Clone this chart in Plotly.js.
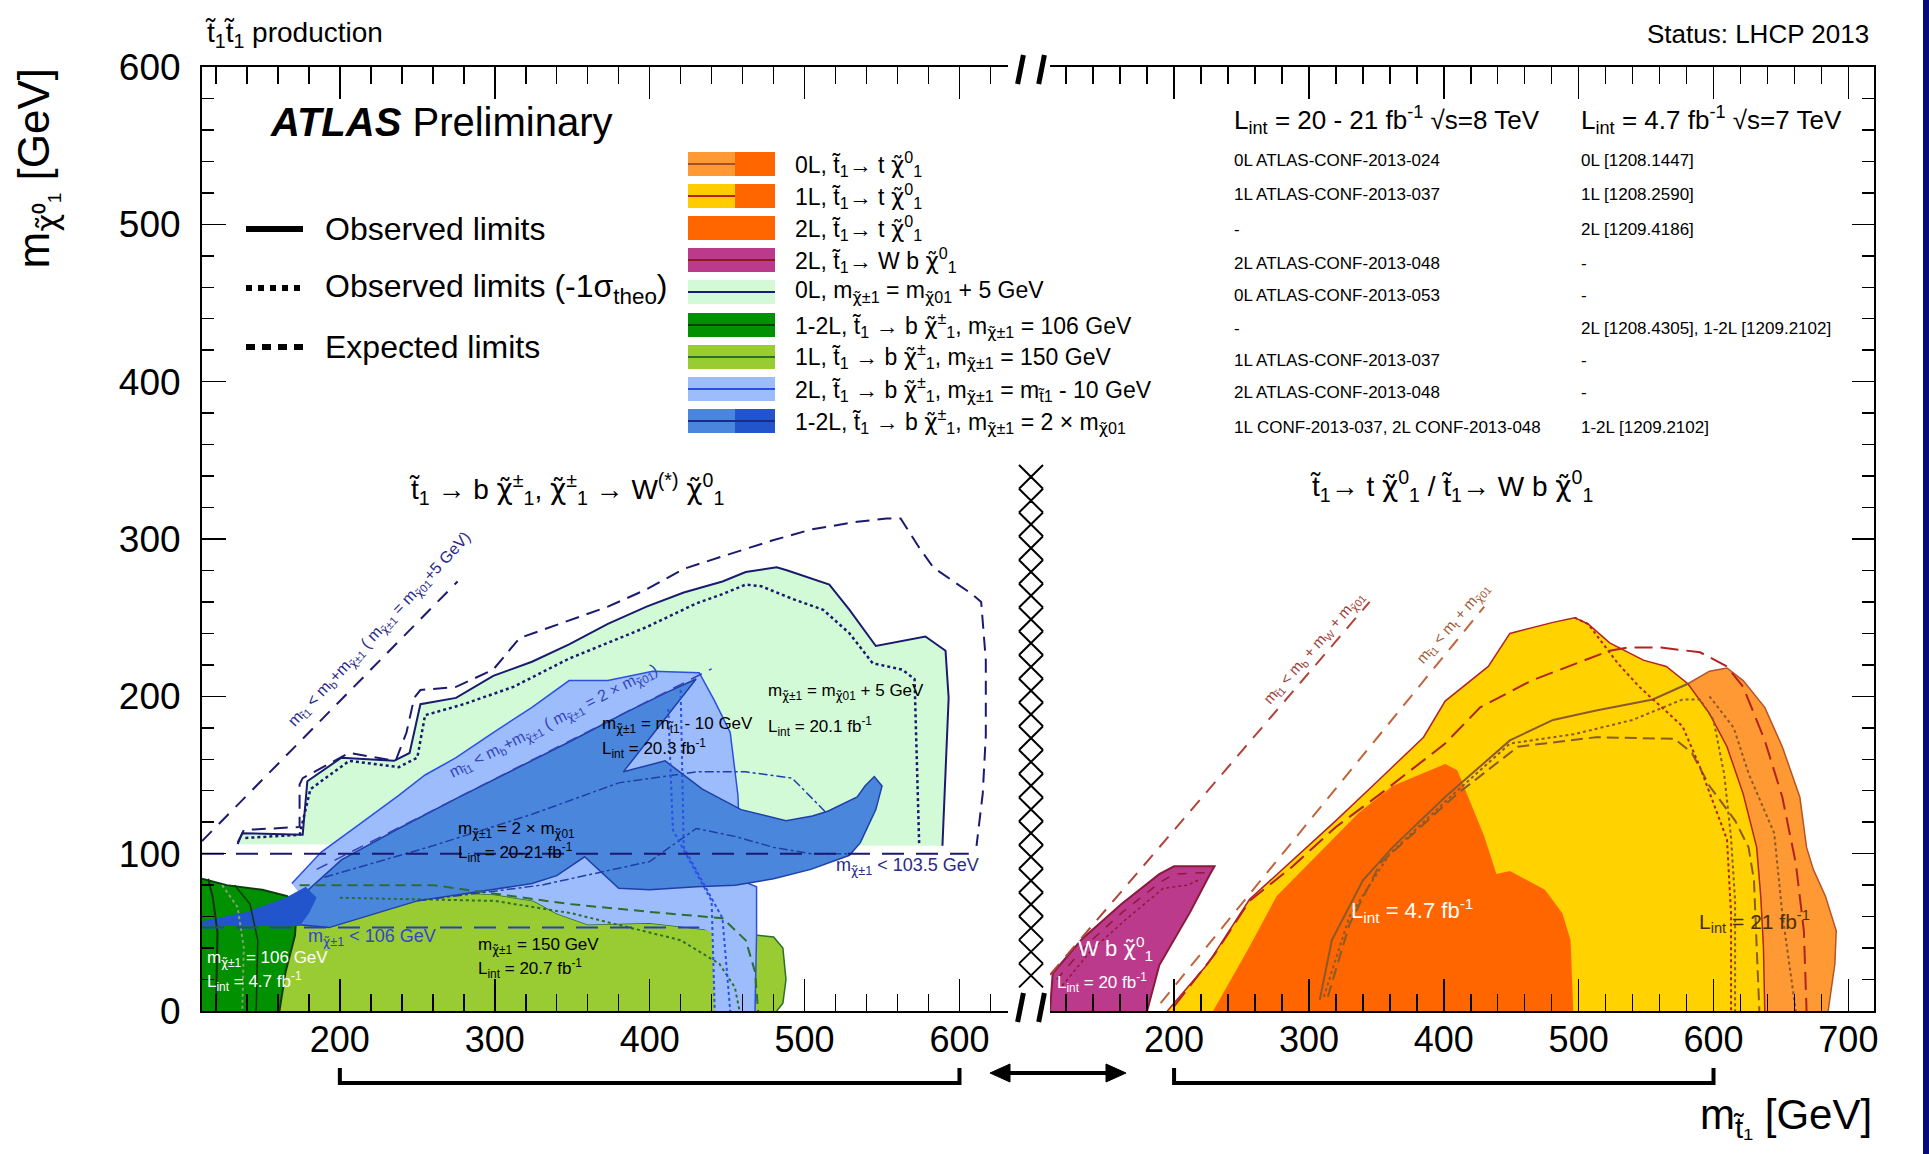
<!DOCTYPE html>
<html><head><meta charset="utf-8">
<script src="https://cdn.plot.ly/plotly-3.0.1.min.js"></script>
<style>html,body{margin:0;padding:0;background:#fff;} #chart{width:1929px;height:1154px;}</style>
</head><body><div id="chart"></div>
<script>
// ================= DATA (GeV) =================
// ---- left panel: t1 -> b chi+-  ----
const mintObsX = [134,137,176,179,201,235,245,252,275,299,324,348,373,398,422,447,462,482,489,516,529,546,578,591,593,591,589];
const mintObsY = [106,113,112,146,161,159,164,195,199,213,222,233,246,257,266,273,279,282,280,271,255,232,238,229,199,150,105];
const mintM1X = [139,174,181,206,238,250,255,280,312,348,398,430,447,462,472,492,512,529,544,563,571,572,573,574];
const mintM1Y = [110,112,141,159,155,161,188,195,206,224,244,259,265,271,270,262,255,240,221,217,211,175,138,105];
const mintExpX = [134,138,174,174,176,206,236,243,248,252,275,299,316,336,373,398,422,447,479,504,534,553,562,573,583,608,614,617,617,615,611];
const mintExpY = [107,115,117,144,148,164,159,177,199,204,206,217,237,244,257,268,281,289,299,306,311,313,313,296,282,265,260,223,175,138,105];
const kinLX = [111,276], kinLY = [108,273];
const kin2X = [185,440], kin2Y = [90,217.5];
const lep1X = [111,606], lep1Y = [100,100];
const lep2X = [111,432], lep2Y = [53,53];
const lgX = [161,165,171,172,173,200,225,262,300,325,340,360,400,435,470,480,486,488,486,482];
const lgY = [0,25,48,60,75,79,78,76,74,70,62,55,56,52,48,47,40,20,5,0];
const dgX = [111,111,127,150,166,172,171,165,161];
const dgY = [0,84,80,77,73,62,48,25,0];
const lbX = [169,188,213,238,255,275,299,324,348,373,402,432,442,452,457,459,469,469,468,442,440,435,400,360,340,325,300,262,225,200,173];
const lbY = [81,101,119,137,150,161,177,193,210,210,216,215,197,177,137,83,79,48,0,0,50,52,56,55,62,70,74,76,78,79,76];
const mbX = [172,174,201,238,275,312,348,385,410,430,383,410,434,459,488,505,515,534,539,545,550,546,536,529,504,480,455,430,400,380,358,340,324,250,193];
const mbY = [55,72,96,116,135,153,171,190,202,211,152,159,141,128,121,124,127,136,143,149,143,128,107,99,90,84,80,79,77,78,98,86,81,70,53];
const dbX = [111,111,140,165,178,185,180,174];
const dbY = [54,57,63,72,79,72,62,54];
const dd1X = [190,260,324,380,430,462,492,504,514], dd1Y = [85,105,125,145,152,152,148,136,126];
const dd2X = [250,330,400,430,455,480,504,528], dd2Y = [70,80,95,116,111,104,100,100];
const bd1X = [412,415,440,442], bd1Y = [192,115,70,0];
const bd2X = [420,422,447,452], bd2Y = [204,104,59,0];
const gExpX = [174,260,348,400,447,462,468,470], gExpY = [80,80,68,63,59,45,25,0];
const gM1X = [200,300,350,420,445,455,458], gM1Y = [72,70,62,45,30,15,0];
const dgL1X = [115,118,121,120], dgL1Y = [84,72,50,0];
const dgL2X = [124,134,138,137], dgL2Y = [80,66,40,0];
const dgL3X = [132,142,147,146], dgL3Y = [80,68,45,0];
// ---- right panel: t1 -> t chi0 / W b chi0 ----
const orX = [560,570,581,597,610,622,638,651,664,669,674,683,691,690,685];
const orY = [0,150,208,216,218,210,193,168,136,104,90,73,51,30,0];
const yeX = [195,225,256,288,320,352,385,401,417,433,449,481,497,507,523,548,565,581,597,610,622,632,635,637,638];
const yeY = [0,30,71,96,121,147,174,197,208,219,240,247,250,246,234,223,219,208,189,168,138,104,73,41,0];
const roX = [229,256,276,305,337,362,401,410,417,430,439,449,475,488,494,496];
const roY = [0,41,73,98,126,143,157,153,138,111,87,89,77,62,45,0];
const mgX = [108,110,132,161,189,200,230,226,212,189,180];
const mgY = [0,24,46,68,87,92,92,86,63,29,0];
const mgIn1X = [113,135,162,190,200,224], mgIn1Y = [20,42,63,82,87,88];
const mgIn2X = [117,138,164,192,210,220], mgIn2Y = [16,38,58,78,80,84];
const kinR1X = [108,345], kinR1Y = [23,260];
const kinR2X = [190,430], kinR2Y = [5,257];
const rAX = [200,230,256,288,320,353,401,427,465,523,536,561,590,610,622,638,651,661,667,669];
const rAY = [3,36,70,92,117,138,170,193,210,229,231,231,228,219,206,172,136,94,51,0];
const rBX = [308,317,340,362,401,449,481,513,555,581], rBY = [7,45,83,104,136,172,185,191,198,208];
const rCX = [311,330,360,401,449,497,540,577,590,600,608,613,616,616], rCY = [9,60,100,133,170,176,185,198,198,185,150,110,70,0];
const rDX = [314,330,353,410,455,513,571,584,597,616,626,630,632,634], rDY = [9,55,94,138,168,174,173,164,143,121,104,83,41,0];
const rEX = [497,507,529,545,577,590,610,613,613], rEY = [250,246,221,206,181,155,109,62,0];
const rFX = [597,615,626,645,651,661], rFY = [200,180,151,113,62,0];
// ---- legend / table text ----
const CH = '<span style="font-family:\'DejaVu Sans\'">\u03c7\u0303</span>';
const T1 = 't\u0303<sub>1</sub>';
const N1 = CH+'<sup>0</sup><sub>1</sub>';
const C1 = CH+'<sup>\u00b1</sup><sub>1</sub>';
const mC = 'm<sub>'+CH+'\u00b11</sub>';
const mN = 'm<sub>'+CH+'01</sub>';
const mT = 'm<sub>t\u03031</sub>';
const legendLabels = [
  '0L, '+T1+'\u2192 t '+N1,
  '1L, '+T1+'\u2192 t '+N1,
  '2L, '+T1+'\u2192 t '+N1,
  '2L, '+T1+'\u2192 W b '+N1,
  '0L, '+mC+' = '+mN+' + 5 GeV',
  '1-2L, '+T1+' \u2192 b '+C1+', '+mC+' = 106 GeV',
  '1L, '+T1+' \u2192 b '+C1+', '+mC+' = 150 GeV',
  '2L, '+T1+' \u2192 b '+C1+', '+mC+' = '+mT+' - 10 GeV',
  '1-2L, '+T1+' \u2192 b '+C1+', '+mC+' = 2 \u00d7 '+mN
];
const legendLeft  = ['#ff9933','#ffcc00','#ff6600','#bb3a8c','#d2fad6','#009000','#99cc33','#9dbcfb','#4a86dc'];
const legendRight = ['#ff6600','#ff6600','#ff6600','#bb3a8c','#d2fad6','#009000','#99cc33','#9dbcfb','#2255cc'];
const legendLine  = ['#a0522d','#b22222',null,'#8b1a1a','#1a1a7a','#0d3d0d','#2d6e2d','#2a4fe6','#1a2a8a'];
const refs8 = ['0L ATLAS-CONF-2013-024','1L ATLAS-CONF-2013-037','-','2L ATLAS-CONF-2013-048','0L ATLAS-CONF-2013-053','-','1L ATLAS-CONF-2013-037','2L ATLAS-CONF-2013-048','1L CONF-2013-037, 2L CONF-2013-048'];
const refs7 = ['0L [1208.1447]','1L [1208.2590]','2L [1209.4186]','-','-','2L [1208.4305], 1-2L [1209.2102]','-','-','1-2L [1209.2102]'];

// ================= LAYOUT HELPERS =================
const FONT = '"Liberation Sans", Arial, Helvetica, sans-serif';
const W=1929, H=1154, ML=202, MR=55, MT=67, MB=143;
const PW=W-ML-MR, PH=H-MT-MB;
const PX = xf => (xf-ML)/PW;
const PY = yf => (H-MB-yf)/PH;
const LR=[111,631], RR=[108,719];
const LD=[0, PX(1007.5)], RD=[PX(1050), 1];
const LX = v => LD[0] + (v-LR[0])/(LR[1]-LR[0])*(LD[1]-LD[0]);
const RX = v => RD[0] + (v-RR[0])/(RR[1]-RR[0])*(RD[1]-RD[0]);

const traces=[];
function ax(side){ return side==='R' ? {xaxis:'x2',yaxis:'y2'} : {xaxis:'x',yaxis:'y'}; }
function fillT(x,y,color,side){ traces.push(Object.assign({type:'scatter',mode:'lines',x:x,y:y,fill:'toself',fillcolor:color,line:{width:0,color:color},hoverinfo:'skip',showlegend:false},ax(side))); }
function lineT(x,y,color,width,dash,side){ traces.push(Object.assign({type:'scatter',mode:'lines',x:x,y:y,line:{color:color,width:width,dash:dash||'solid'},hoverinfo:'skip',showlegend:false},ax(side))); }

// ---- left panel drawing ----
fillT(mintObsX, mintObsY, '#d2fad6','L');
lineT(mintObsX, mintObsY, '#1a1a6e', 2, 'solid','L');
lineT(mintM1X, mintM1Y, '#1a1a6e', 2.5, 'dot','L');
lineT(mintExpX, mintExpY, '#1a1a6e', 2, '14px,8px','L');
lineT(kinLX, kinLY, '#1a1a6e', 2, '14px,10px','L');
fillT(lgX, lgY, '#99cc33','L');
lineT(lgX.slice(4), lgY.slice(4), '#2d6e2d', 1.5, 'solid','L');
fillT(lbX, lbY, '#9dbcfb','L');
lineT(lbX.slice(0,19), lbY.slice(0,19), '#2a4fe6', 1.5, 'solid','L');
fillT(mbX, mbY, '#4a86dc','L');
lineT(mbX.concat([mbX[0]]), mbY.concat([mbY[0]]), '#1f3fa8', 1.5, 'solid','L');
fillT(dgX, dgY, '#009000','L');
lineT(dgX.slice(1), dgY.slice(1), '#0d3d0d', 2, 'solid','L');
fillT(dbX, dbY, '#2255cc','L');
lineT(dgL1X, dgL1Y, '#143214', 2, 'solid','L');
lineT(dgL2X, dgL2Y, '#7fa07f', 2, 'dot','L');
lineT(dgL3X, dgL3Y, '#143214', 1.5, 'solid','L');
lineT(gExpX, gExpY, '#2d6e2d', 2, '10px,6px','L');
lineT(gM1X, gM1Y, '#2d6e2d', 2, 'dot','L');
lineT(dd1X, dd1Y, '#1f3fa8', 1.5, 'dashdot','L');
lineT(dd2X, dd2Y, '#1f3fa8', 1.5, 'dashdot','L');
lineT(bd1X, bd1Y, '#2a4fe6', 2, 'dot','L');
lineT(bd2X, bd2Y, '#2a4fe6', 2, 'dot','L');
lineT(kin2X, kin2Y, '#3344bb', 1.5, '12px,8px','L');
lineT(lep1X, lep1Y, '#1a1a6e', 2, '22px,12px','L');
lineT(lep2X, lep2Y, '#2a3fc0', 2, '22px,12px','L');

// ---- right panel drawing ----
fillT(orX, orY, '#ff9933','R');
lineT(orX.slice(2), orY.slice(2), '#b5532a', 1.5, 'solid','R');
fillT(yeX, yeY, '#ffd200','R');
lineT(yeX, yeY, '#b22222', 1.5, 'solid','R');
fillT(roX, roY, '#ff6600','R');
fillT(mgX, mgY, '#bb3a8c','R');
lineT(mgX, mgY, '#8b1a3a', 2, 'solid','R');
lineT(mgIn1X, mgIn1Y, '#8b1a3a', 1.5, 'dash','R');
lineT(mgIn2X, mgIn2Y, '#8b1a3a', 1.5, 'dot','R');
lineT(kinR1X, kinR1Y, '#b0443a', 2, '14px,10px','R');
lineT(kinR2X, kinR2Y, '#c0643a', 2, '14px,10px','R');
lineT(rAX, rAY, '#b22222', 2, '18px,8px','R');
lineT(rBX, rBY, '#8b5a2b', 2, 'solid','R');
lineT(rCX, rCY, '#8b5a2b', 2, 'dot','R');
lineT(rDX, rDY, '#8b5a2b', 2, '12px,6px','R');
lineT(rEX, rEY, '#b22222', 2, 'dot','R');
lineT(rFX, rFY, '#8b5a2b', 2, 'dot','R');

// ================= ANNOTATIONS =================
const anns=[];
function A(text,x,y,o){ anns.push(Object.assign({text:text,x:x,y:y,xref:'paper',yref:'paper',showarrow:false,xanchor:'left',yanchor:'middle',font:{family:FONT,size:20,color:'#000'}},o||{})); }
function AL(text,x,y,o){ A(text,x,y,Object.assign({xref:'x',yref:'y'},o||{})); }
function AR(text,x,y,o){ A(text,x,y,Object.assign({xref:'x2',yref:'y2'},o||{})); }
const f = (s,c) => ({family:FONT,size:s,color:c||'#000'});

A('t\u0303<sub>1</sub>t\u0303<sub>1</sub> production', PX(203), PY(34), {font:f(28)});
A('Status: LHCP 2013', PX(1871), PY(34), {xanchor:'right', font:f(26)});
A('m<sub>'+CH+'\u2070\u2081</sub> [GeV]', PX(37), PY(66), {xanchor:'center', yanchor:'top', textangle:-90, font:f(44)});
A('m<sub>t\u0303\u2081</sub> [GeV]', PX(1874), PY(1117), {xanchor:'right', font:f(42)});
A('<b><i>ATLAS</i></b> Preliminary', PX(268), PY(122), {font:f(40)});
A('Observed limits', PX(323), PY(229), {font:f(32)});
A('Observed limits (-1\u03c3<sub>theo</sub>)', PX(323), PY(288), {font:f(32)});
A('Expected limits', PX(323), PY(347), {font:f(32)});

const rowY = [164,196,228,260,292,325,357,389,421];
legendLabels.forEach((t,i)=>A(t, PX(793), PY(rowY[i]), {font:f(23)}));
A('L<sub>int</sub> = 20 - 21 fb<sup>-1</sup> \u221as=8 TeV', PX(1232), PY(120), {font:f(26)});
A('L<sub>int</sub> = 4.7 fb<sup>-1</sup> \u221as=7 TeV', PX(1579), PY(120), {font:f(26)});
const tabY = [161,194,229,263,295,328,361,393,427];
refs8.forEach((t,i)=>A(t, PX(1232), PY(tabY[i]), {font:f(17)}));
refs7.forEach((t,i)=>A(t, PX(1579), PY(tabY[i]), {font:f(17)}));

// panel titles
AL(T1+' \u2192 b '+C1+', '+C1+' \u2192 W<sup>(*)</sup> '+N1, 346, 332, {xanchor:'center', font:f(28)});
AR(T1+'\u2192 t '+N1+' / '+T1+'\u2192 W b '+N1, 406, 334, {xanchor:'center', font:f(28)});
// left in-plot labels
AL(mT+' < m<sub>b</sub>+'+mC+' ( '+mC+' = '+mN+'+5 GeV)', 226, 242, {xanchor:'center', textangle:-47, font:f(16,'#2a2a8a')});
AL(mT+' < m<sub>b</sub>+'+mC+' ( '+mC+' = 2 \u00d7 '+mN+')', 338, 184, {xanchor:'center', textangle:-27, font:f(16,'#3344bb')});
AL(mC+' = '+mN+' + 5 GeV', 475, 203, {font:f(17)});
AL('L<sub>int</sub> = 20.1 fb<sup>-1</sup>', 475, 181, {font:f(17)});
AL(mC+' = '+mT+' - 10 GeV', 368, 182, {font:f(17)});
AL('L<sub>int</sub> = 20.3 fb<sup>-1</sup>', 368, 167, {font:f(17)});
AL(mC+' = 2 \u00d7 '+mN, 275, 115, {font:f(17)});
AL('L<sub>int</sub> = 20-21 fb<sup>-1</sup>', 275, 101, {font:f(17)});
AL(mC+' = 150 GeV', 288, 41, {font:f(17)});
AL('L<sub>int</sub> = 20.7 fb<sup>-1</sup>', 288, 27, {font:f(17)});
AL(mC+' = 106 GeV', 113, 33, {font:f(17,'#ffffff')});
AL('L<sub>int</sub> = 4.7 fb<sup>-1</sup>', 113, 19, {font:f(17,'#ffffff')});
AL(mC+' < 106 GeV', 178, 47, {font:f(18,'#3344cc')});
AL(mC+' < 103.5 GeV', 519, 92, {font:f(18,'#2a2a8a')});
// right in-plot labels
AR(mT+' < m<sub>b</sub> + m<sub>W</sub> + '+mN, 304, 231, {xanchor:'center', textangle:-49, font:f(15,'#a0403a')});
AR(mT+' < m<sub>t</sub> + '+mN, 407, 246, {xanchor:'center', textangle:-49, font:f(15,'#a0603a')});
AR('W b '+N1, 127, 40, {font:f(22,'#ffffff')});
AR('L<sub>int</sub> = 20 fb<sup>-1</sup>', 112, 18, {font:f(17,'#ffffff')});
AR('L<sub>int</sub> = 4.7 fb<sup>-1</sup>', 330, 64, {font:f(22,'#ffffff')});
AR('L<sub>int</sub> = 21 fb<sup>-1</sup>', 588, 57, {font:f(21,'#4a3000')});

// ================= SHAPES =================
const shapes=[];
const P = o => Object.assign({xref:'paper',yref:'paper',layer:'above'},o);
// legend line samples
shapes.push(P({type:'line',x0:PX(246),x1:PX(303),y0:PY(229),y1:PY(229),line:{color:'#000',width:6}}));
shapes.push(P({type:'line',x0:PX(246),x1:PX(303),y0:PY(288),y1:PY(288),line:{color:'#000',width:6,dash:'dot'}}));
shapes.push(P({type:'line',x0:PX(246),x1:PX(303),y0:PY(347),y1:PY(347),line:{color:'#000',width:6,dash:'9px,7px'}}));
// color swatches
rowY.forEach((yc,i)=>{
  shapes.push(P({type:'rect',x0:PX(688),x1:PX(735),y0:PY(yc-12),y1:PY(yc+12),fillcolor:legendLeft[i],line:{width:0}}));
  shapes.push(P({type:'rect',x0:PX(735),x1:PX(775),y0:PY(yc-12),y1:PY(yc+12),fillcolor:legendRight[i],line:{width:0}}));
  if(legendLine[i]){
    const xe = (i<2) ? 735 : 775;
    shapes.push(P({type:'line',x0:PX(688),x1:PX(xe),y0:PY(yc),y1:PY(yc),line:{color:legendLine[i],width:2}}));
  }
});
// hatched break band
(function(){
  const xa=PX(1019), xb=PX(1043), yTop=347, yBot=15, n=22, h=(yTop-yBot)/n;
  let d='';
  for(let i=0;i<n;i++){
    const y0=(yBot+i*h)/600, y1=(yBot+(i+1)*h)/600;
    d += `M${xa},${y0}L${xb},${y1}M${xa},${y1}L${xb},${y0}`;
  }
  shapes.push(P({type:'path',path:d,line:{color:'#000',width:2}}));
})();
// axis-break marks
[[1017.6,1023.4],[1038.7,1044.4]].forEach(p=>{
  shapes.push(P({type:'line',x0:PX(p[0]),x1:PX(p[1]),y0:PY(1022),y1:PY(993),line:{color:'#000',width:5}}));
  shapes.push(P({type:'line',x0:PX(p[0]),x1:PX(p[1]),y0:PY(84),y1:PY(55),line:{color:'#000',width:5}}));
});
// brackets under axes (200-600 on each)
const byT = PY(1068), byB = PY(1083);
shapes.push(P({type:'path',path:`M${LX(200)},${byT}L${LX(200)},${byB}L${LX(600)},${byB}L${LX(600)},${byT}`,line:{color:'#000',width:4}}));
shapes.push(P({type:'path',path:`M${RX(200)},${byT}L${RX(200)},${byB}L${RX(600)},${byB}L${RX(600)},${byT}`,line:{color:'#000',width:4}}));
// double arrow
shapes.push(P({type:'line',x0:PX(1002),x1:PX(1114),y0:PY(1073),y1:PY(1073),line:{color:'#000',width:4}}));
shapes.push(P({type:'path',path:`M${PX(990)},${PY(1073)}L${PX(1010)},${PY(1064)}L${PX(1010)},${PY(1082)}Z`,fillcolor:'#000',line:{color:'#000',width:1}}));
shapes.push(P({type:'path',path:`M${PX(1126)},${PY(1073)}L${PX(1106)},${PY(1064)}L${PX(1106)},${PY(1082)}Z`,fillcolor:'#000',line:{color:'#000',width:1}}));
// right border strip
shapes.push(P({type:'rect',x0:PX(1923),x1:PX(1930),y0:PY(-2),y1:PY(1156),fillcolor:'#0a0a80',line:{width:0}}));

// ================= AXES =================
const minorX = {ticks:'inside',ticklen:17,tickwidth:1.5,tickcolor:'#000',dtick:20,tick0:0,showgrid:false};
const minorY = {ticks:'inside',ticklen:12,tickwidth:1.5,tickcolor:'#000',dtick:20,tick0:0,showgrid:false};
const xbase = {anchor:'y',tickmode:'linear',tick0:0,dtick:100,ticks:'inside',ticklen:32,tickwidth:1.5,tickcolor:'#000',
  showline:true,linewidth:2,linecolor:'#000',mirror:'ticks',showgrid:false,zeroline:false,
  tickfont:{family:FONT,size:36,color:'#000'},ticklabelstandoff:-4,minor:minorX,fixedrange:true};
const layout = {
  width:W,height:H,autosize:false,
  margin:{l:ML,r:MR,t:MT,b:MB,pad:0},
  paper_bgcolor:'#fff',plot_bgcolor:'#fff',showlegend:false,
  xaxis:Object.assign({},xbase,{domain:LD,range:LR,anchor:'y'}),
  xaxis2:Object.assign({},xbase,{domain:RD,range:RR,anchor:'y2'}),
  yaxis:{domain:[0,1],range:[0,600],anchor:'x',tickmode:'linear',tick0:0,dtick:100,ticks:'inside',ticklen:24,tickwidth:1.5,tickcolor:'#000',
    showline:true,linewidth:2,linecolor:'#000',showgrid:false,zeroline:false,tickfont:{family:FONT,size:37,color:'#000'},ticklabelstandoff:12,minor:minorY,fixedrange:true},
  yaxis2:{domain:[0,1],range:[0,600],anchor:'x2',side:'right',tickmode:'linear',tick0:0,dtick:100,ticks:'inside',ticklen:22,tickwidth:1.5,tickcolor:'#000',
    showline:true,linewidth:2,linecolor:'#000',showgrid:false,zeroline:false,showticklabels:false,minor:minorY,fixedrange:true},
  annotations:anns, shapes:shapes,
  font:{family:FONT}
};
Plotly.newPlot('chart', traces, layout, {staticPlot:true, displayModeBar:false});
</script></body></html>
